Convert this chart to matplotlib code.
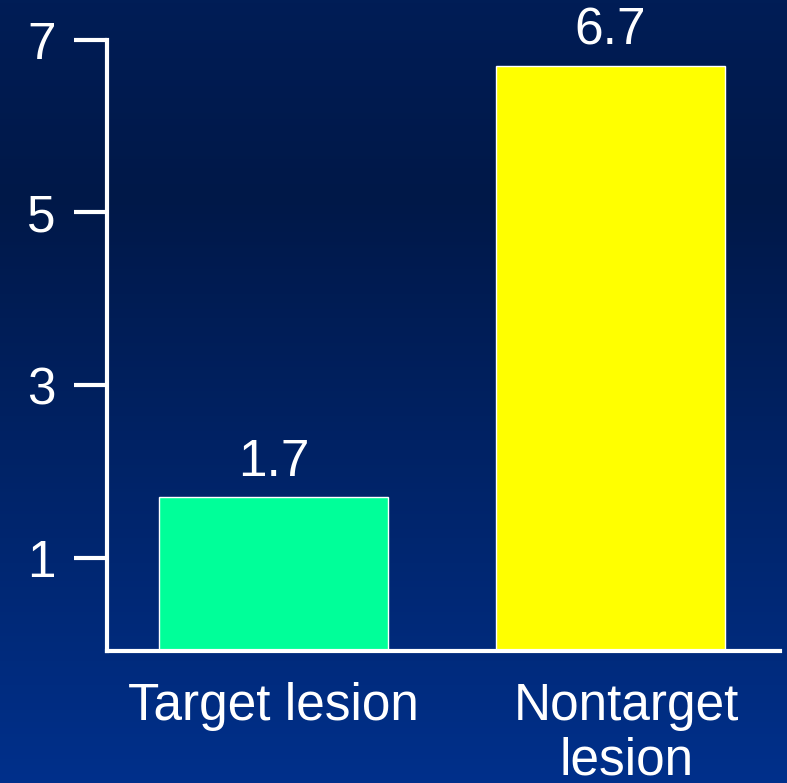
import matplotlib.pyplot as plt
import numpy as np
from matplotlib.colors import LinearSegmentedColormap
import matplotlib.transforms as mtransforms

plt.rcParams['font.family'] = ['Liberation Sans', 'DejaVu Sans']

# data
categories = ['Target lesion', 'Nontarget\nlesion']
values = [1.7, 6.7]
bar_colors = ['#00ff99', '#ffff00']
yticks = [1, 3, 5, 7]

fig = plt.figure(figsize=(7.87, 7.83), dpi=100)

# blue slide background, dark at top, brighter toward the bottom
bg = fig.add_axes([0, 0, 1, 1], zorder=0)
cmap = LinearSegmentedColormap.from_list(
    'slide', [(0, '#001d56'), (0.25, '#001848'), (1, '#00308b')])
grad = np.linspace(0, 1, 256).reshape(-1, 1)
bg.imshow(grad, aspect='auto', cmap=cmap, extent=[0, 1, 0, 1])
bg.axis('off')

ax = fig.add_axes([0.136, 0.1686, 0.855, 0.7805], zorder=1)
ax.patch.set_alpha(0)

base = -0.08
ax.set_xlim(-0.494, 1.503)
ax.set_ylim(base, 7)

x = np.arange(len(values))
heights = [v - base for v in values]
ax.bar(x, heights, width=0.68, bottom=base, color=bar_colors,
       edgecolor='white', linewidth=1.0, zorder=2)
for xi, v in zip(x, values):
    ax.text(xi, v + 0.25, f'{v}', ha='center', va='baseline',
            color='white', fontsize=37)

ax.set_yticks(yticks)
ax.set_yticklabels([str(t) for t in yticks])
ax.set_xticks(x)
ax.set_xticklabels(categories, linespacing=1.15)

for s in ['top', 'right']:
    ax.spines[s].set_visible(False)
for s in ['left', 'bottom']:
    ax.spines[s].set_color('white')
    ax.spines[s].set_linewidth(3)
    ax.spines[s].set_zorder(3)

ax.tick_params(axis='y', colors='white', labelsize=37, length=24,
               width=3, pad=13)
ax.tick_params(axis='x', colors='white', labelsize=37, length=0, pad=22)

# second category label sits a little right of its bar
lbl = ax.get_xticklabels()[1]
lbl.set_transform(lbl.get_transform() +
                  mtransforms.ScaledTranslation(0.16, 0, fig.dpi_scale_trans))

fig.savefig('out.png', dpi=100)
